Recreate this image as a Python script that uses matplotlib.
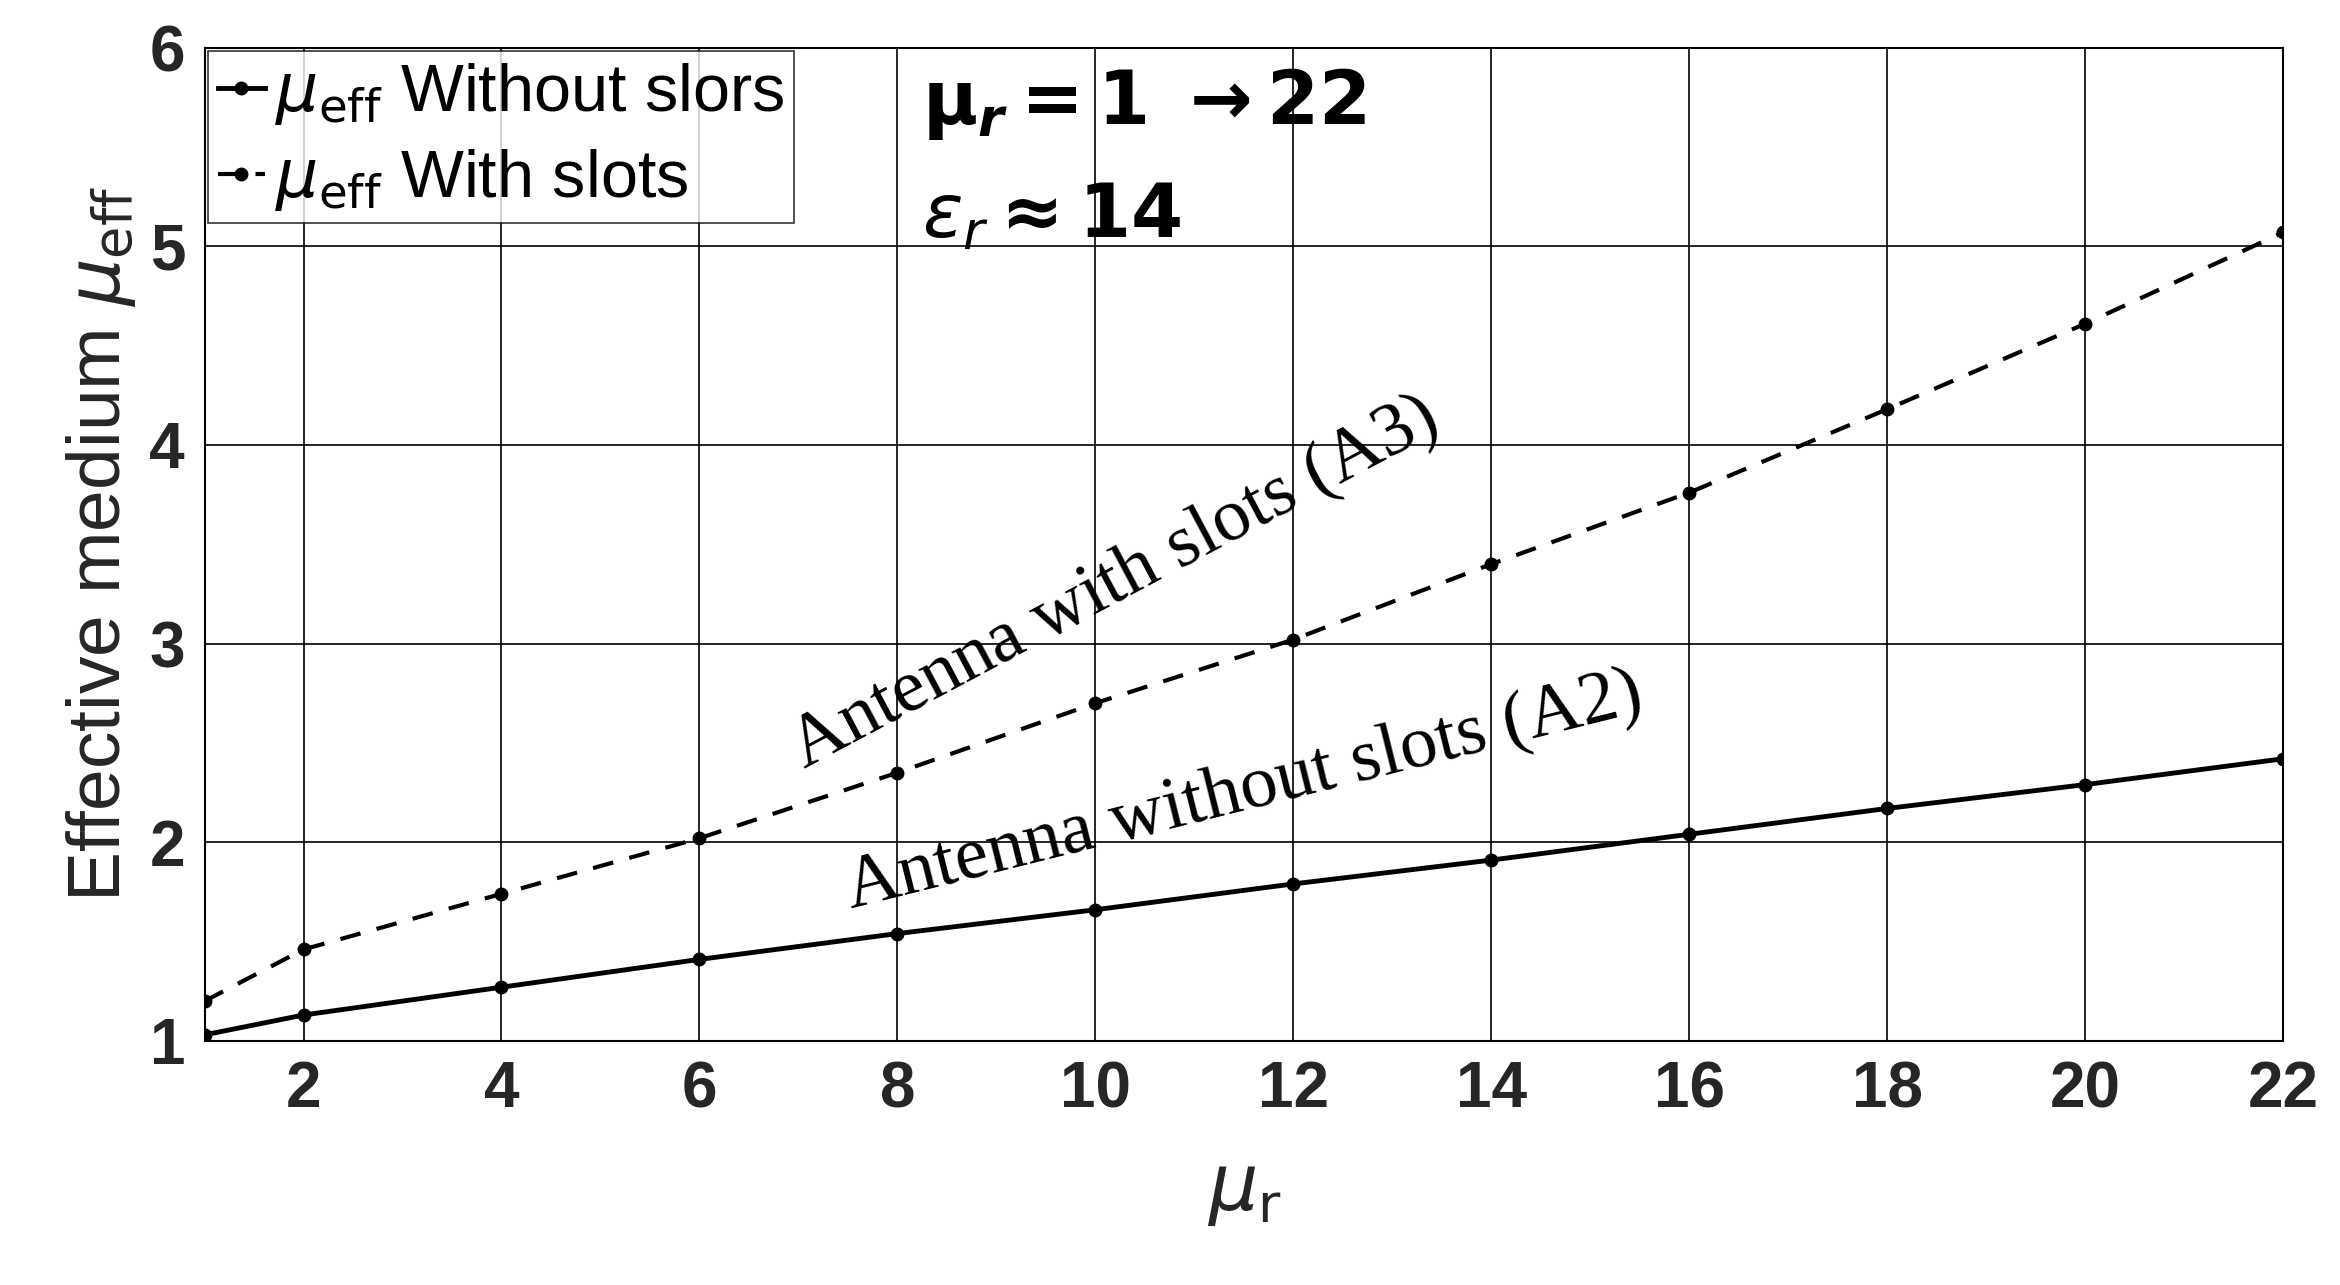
import matplotlib
matplotlib.use("Agg")
import matplotlib.pyplot as plt

mu_r = [1, 2, 4, 6, 8, 10, 12, 14, 16, 18, 20, 22]
without_slots = [1.03, 1.13, 1.27, 1.41, 1.54, 1.66, 1.79, 1.91, 2.04, 2.17, 2.29, 2.42]
with_slots = [1.20, 1.46, 1.74, 2.02, 2.35, 2.70, 3.02, 3.40, 3.76, 4.18, 4.61, 5.07]
xticks = [2, 4, 6, 8, 10, 12, 14, 16, 18, 20, 22]
yticks = [1, 2, 3, 4, 5, 6]

plt.rcParams['font.family'] = ['Liberation Sans', 'DejaVu Sans']
plt.rcParams['mathtext.fontset'] = 'dejavusans'
fig = plt.figure(figsize=(23.4, 12.85), dpi=100)
ax = fig.add_axes([0.0874, 0.190, 0.8884, 0.773])
ax.plot(mu_r, without_slots, 'k-', marker='o', ms=9, lw=3.5, label=r'$\mu_{\rm eff}$ Without slors')
ax.plot(mu_r, with_slots, 'k--', marker='o', ms=9, lw=3, dashes=(5, 4), label=r'$\mu_{\rm eff}$ With slots')
ax.set_xlim(1, 22)
ax.set_ylim(1, 6)
ax.set_xticks(xticks)
ax.set_yticks(yticks)
ax.grid(True, color='k', lw=1.2)
ax.tick_params(labelsize=46, length=0, pad=14)
for t in ax.get_xticklabels() + ax.get_yticklabels():
    t.set_fontweight('bold')
    t.set_color('#262626')
for s in ax.spines.values():
    s.set_linewidth(1.5)
ax.set_xlabel(r'$\mu_{\rm r}$', fontsize=56, color='#262626', labelpad=25)
ax.set_ylabel(r'Effective medium $\mu_{\rm eff}$', fontsize=54, color='#262626', labelpad=8)
leg = ax.legend(loc='upper left', fontsize=48, handlelength=0.7, handletextpad=0.15,
                fancybox=False, edgecolor='k', borderaxespad=0.05, borderpad=0.15, labelspacing=0.3)
leg.get_frame().set_linewidth(1.2)
ax.text(0.345, 0.943, r'$\mathbf{\mu}_{\boldsymbol{r}}\mathbf{=1\ \rightarrow 22}$', transform=ax.transAxes,
        fontsize=54, va='center')
ax.text(0.345, 0.83, r'$\boldsymbol{\varepsilon_r}\mathbf{\approx 14}$', transform=ax.transAxes,
        fontsize=54, va='center')
ax.text(10.2, 3.3, 'Antenna with slots (A3)', family='Liberation Serif', fontsize=54,
        rotation=28, ha='center', va='center')
ax.text(11.5, 2.25, 'Antenna without slots (A2)', family='Liberation Serif', fontsize=54,
        rotation=14, ha='center', va='center')
fig.savefig('out.png', dpi=100)
